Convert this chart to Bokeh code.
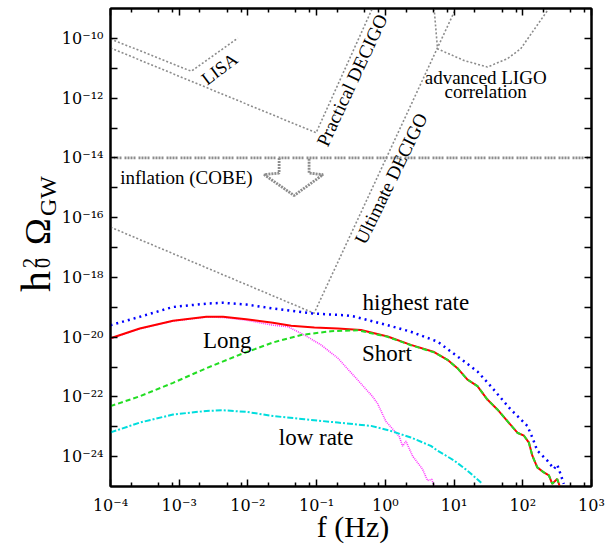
import math
from bokeh.plotting import figure
from bokeh.models import FixedTicker, LogAxis, Label, Range1d, Div
from bokeh.layouts import row, column
from bokeh.embed import file_html
from bokeh.resources import INLINE

# ---- data (log10 of frequency [Hz] and log10 of h0^2 Omega_GW) ----
highest_lf = [-4.0, -3.574, -3.089, -2.606, -2.363, -2.025, -1.637, -1.056, -0.573, -0.457,
              0.033, 0.371, 0.759, 0.952, 1.145, 1.340, 1.533, 1.678, 1.823, 1.969, 2.066,
              2.139, 2.211, 2.356, 2.452, 2.501, 2.549, 2.597]
highest_lh = [-19.60, -19.32, -18.99, -18.88, -18.85, -18.91, -19.04, -19.21, -19.27, -19.31,
              -19.60, -19.82, -20.15, -20.48, -20.81, -21.15, -21.64, -22.03, -22.42, -22.75,
              -22.97, -23.36, -23.80, -24.13, -24.41, -24.27, -24.58, -24.91]

total_lf = [-4.0, -3.574, -3.089, -2.606, -2.363, -2.025, -1.637, -1.371, -1.033, -0.693, -0.355,
            0.033, 0.371, 0.710, 0.904, 1.049, 1.195, 1.340, 1.485, 1.630, 1.776, 1.921, 2.017,
            2.089, 2.139, 2.211, 2.307, 2.380, 2.429, 2.501, 2.539]
total_lh = [-20.04, -19.71, -19.45, -19.32, -19.32, -19.40, -19.52, -19.62, -19.68, -19.71, -19.76,
            -19.98, -20.26, -20.50, -20.76, -21.04, -21.42, -21.64, -22.09, -22.42, -22.81, -23.20,
            -23.30, -23.53, -23.97, -24.36, -24.53, -24.63, -24.91, -24.75, -25.0]

short_lf = [-4.0, -3.574, -3.089, -2.606, -2.122, -1.637, -1.226, -0.791, -0.403,
            0.033, 0.371, 0.710, 0.904, 1.049, 1.195, 1.340, 1.485, 1.630, 1.776, 1.921, 2.017,
            2.089, 2.139, 2.211, 2.307, 2.380, 2.429, 2.501, 2.539]
short_lh = [-22.31, -21.98, -21.53, -21.04, -20.59, -20.18, -19.93, -19.80, -19.77,
            -19.99, -20.27, -20.51, -20.76, -21.04, -21.42, -21.64, -22.09, -22.42, -22.81, -23.20,
            -23.30, -23.53, -23.97, -24.36, -24.53, -24.63, -24.91, -24.75, -25.0]

long_lf = [-4.0, -3.574, -3.089, -2.606, -2.363, -2.025, -1.637, -1.419, -1.178, -0.936, -0.693,
           -0.452, -0.185, -0.112, 0.008, 0.201, 0.251, 0.299, 0.396, 0.541, 0.614, 0.676, 0.710]
long_lh = [-20.05, -19.72, -19.46, -19.33, -19.34, -19.43, -19.60, -19.65, -19.93, -20.26, -20.70,
           -21.31, -21.99, -22.23, -22.82, -23.32, -23.65, -23.48, -23.98, -24.42, -24.80, -24.76, -24.98]

low_lf = [-4.0, -3.574, -3.089, -2.606, -2.363, -2.025, -1.637, -1.178, -0.693, -0.210, 0.081,
          0.371, 0.662, 0.759, 1.0, 1.195, 1.412]
low_lh = [-23.19, -22.86, -22.59, -22.47, -22.45, -22.50, -22.64, -22.75, -22.86, -22.97, -23.14,
          -23.36, -23.64, -23.80, -24.13, -24.47, -24.91]

# detector sensitivity curves
lisa_lf = [-4.0, -2.824, -2.146]
lisa_lh = [-10.02, -11.10, -9.99]
pdecigo_lf = [-4.0, -1.008, -0.19]
pdecigo_lh = [-10.32, -13.16, -9.0]
udecigo_lf = [-4.0, -1.037, 1.025]
udecigo_lh = [-16.32, -19.20, -9.0]
ligo_lf = [0.710, 0.759, 1.145, 1.485, 1.776, 1.969, 2.380]
ligo_lh = [-9.0, -10.35, -10.74, -10.96, -10.68, -10.35, -9.0]
cobe_lf = [-4.0, 3.0]
cobe_lh = [-14.0, -14.0]
arrow_lf = [-1.546, -1.546, -1.764, -1.328, -0.907, -1.110, -1.110]
arrow_lh = [-14.0, -14.51, -14.56, -15.26, -14.56, -14.51, -14.0]

x_exps = list(range(-4, 4))
y_exps = list(range(-24, -9, 2))
y_minor_exps = list(range(-23, -10, 2))
x_minor_mult = [2, 5, 8]


def pw(vals):
    return [10.0 ** v for v in vals]


FONT = "Liberation Serif"
TICKFONT = "DejaVu Serif"
SUP = str.maketrans("-0123456789", "⁻⁰¹²³⁴⁵⁶⁷⁸⁹")

xt = [float(f"1e{k}") for k in x_exps]
xm = [float(f"{m}e{k}") for k in x_exps[:-1] for m in x_minor_mult]
yt = [float(f"1e{k}") for k in y_exps]
ym = [float(f"1e{k}") for k in y_minor_exps]
x_over = {v: "10" + str(k).translate(SUP) for v, k in zip(xt, x_exps)}
y_over = {v: "10" + str(k).translate(SUP) for v, k in zip(yt, y_exps)}

p = figure(width=552, height=517, x_axis_type="log", y_axis_type="log",
           x_range=Range1d(1e-4, 1e3), y_range=Range1d(1e-25, 1e-9),
           output_backend="svg", toolbar_location=None,
           min_border_left=51, min_border_right=19, min_border_top=8, min_border_bottom=28)
p.xgrid.visible = False
p.ygrid.visible = False
p.outline_line_color = "black"
p.outline_line_width = 2
p.background_fill_color = "white"
p.border_fill_color = "white"


def style(ax, ticks, minor, minor_len, overrides=None):
    ax.ticker = FixedTicker(ticks=ticks, minor_ticks=minor)
    ax.axis_line_color = "black"
    ax.axis_line_width = 2
    ax.major_tick_in = 7
    ax.major_tick_out = 0
    ax.minor_tick_in = minor_len
    ax.minor_tick_out = 0
    ax.major_tick_line_width = 1.5
    ax.minor_tick_line_width = 1.5
    ax.major_tick_line_color = "black"
    ax.minor_tick_line_color = "black"
    ax.major_label_text_font = TICKFONT
    if overrides is None:
        ax.major_label_text_font_size = "1px"
        ax.major_label_text_color = None
        ax.major_label_standoff = 0
    else:
        ax.major_label_overrides = overrides
        ax.major_label_text_font_size = "16px"
        ax.major_label_text_color = "black"


style(p.xaxis[0], xt, xm, 4, x_over)
p.xaxis[0].major_label_standoff = 9
style(p.yaxis[0], yt, ym, 7, y_over)
p.yaxis[0].major_label_standoff = 7
top = LogAxis()
style(top, xt, xm, 4)
p.add_layout(top, "above")
right = LogAxis()
style(right, yt, ym, 7)
p.add_layout(right, "right")

GRAY = "#8c8c8c"
p.line(pw(lisa_lf), pw(lisa_lh), line_color=GRAY, line_width=1.6, line_dash="2 2")
p.line(pw(pdecigo_lf), pw(pdecigo_lh), line_color=GRAY, line_width=1.6, line_dash="2 2")
p.line(pw(udecigo_lf), pw(udecigo_lh), line_color=GRAY, line_width=1.6, line_dash="2 2")
p.line(pw(ligo_lf), pw(ligo_lh), line_color=GRAY, line_width=1.6, line_dash="2 2")
p.line(pw(cobe_lf), pw(cobe_lh), line_color=GRAY, line_width=2.8, line_dash="2 1 2 1 2 1 2 3")
p.line(pw(arrow_lf), pw(arrow_lh), line_color=GRAY, line_width=2.8, line_dash="2 1")

p.line(pw(long_lf), pw(long_lh), line_color="#ff33ff", line_width=1.6, line_dash="1 1")
p.line(pw(total_lf), pw(total_lh), line_color="#ff0000", line_width=2)
p.line(pw(short_lf), pw(short_lh), line_color="#22dd22", line_width=2, line_dash="5 3")
p.line(pw(highest_lf), pw(highest_lh), line_color="#0000ff", line_width=2.5, line_dash="2 4")
p.line(pw(low_lf), pw(low_lh), line_color="#00dddd", line_width=2, line_dash="6 2 2 2")


def dtxt(text, lx, ly, size, angle_deg=0.0):
    p.add_layout(Label(x=10.0 ** lx, y=10.0 ** ly, text=text, text_font=FONT,
                       text_font_size=size, text_align="center", text_baseline="middle",
                       angle=math.radians(angle_deg), text_color="black"))


dtxt("LISA", -2.413, -11.02, "18px", 37)
dtxt("Practical DECIGO", -0.486, -11.40, "19px", 65)
dtxt("Ultimate DECIGO", 0.081, -14.69, "19px", 64)
dtxt("advanced LIGO", 1.460, -11.30, "19px")
dtxt("correlation", 1.460, -11.77, "19px")
dtxt("inflation (COBE)", -2.896, -14.65, "19px")
dtxt("highest rate", 0.444, -18.83, "23px")
dtxt("Long", -2.301, -20.10, "23px")
dtxt("Short", 0.023, -20.55, "23px")
dtxt("low rate", -1.008, -23.36, "23px")


# y axis title  h_0^2 Omega_GW, rotated, as real HTML text.
# each piece: (text, distance along the title, baseline x, font size)
def piece(text, u, vb, fs):
    top_px = vb - 0.8375 * fs
    return (f'<span style="position:absolute;left:{u}px;top:{top_px:.1f}px;'
            f'font-size:{fs}px;line-height:{fs}px;white-space:nowrap;">{text}</span>')


title_pieces = [("h", 0, 50, 42), ("0", 24, 50, 20), ("2", 24, 37, 20),
                ("Ω", 47, 50, 36), ("GW", 76, 56, 24)]
ylab_html = (
    '<div style="position:relative;width:58px;height:544px;">'
    '<div style="position:absolute;left:0px;top:292px;width:0px;height:0px;'
    'transform-origin:0 0;transform:rotate(-90deg);font-family:\'Liberation Serif\';'
    'color:black;">'
    + "".join(piece(*t) for t in title_pieces)
    + '</div></div>'
)
ylab = Div(text=ylab_html, width=58, height=544, margin=0)

xlab_html = (
    '<div style="position:relative;width:552px;height:27px;">'
    '<div style="position:absolute;left:295px;top:-5px;transform:translateX(-50%);'
    'white-space:nowrap;font-family:\'Liberation Serif\';font-size:30px;line-height:30px;'
    'color:black;">f (Hz)</div></div>'
)
xlab = Div(text=xlab_html, width=552, height=27, margin=0)

layout = row(ylab, column(p, xlab))
open("out.html", "w").write(file_html(layout, INLINE))
